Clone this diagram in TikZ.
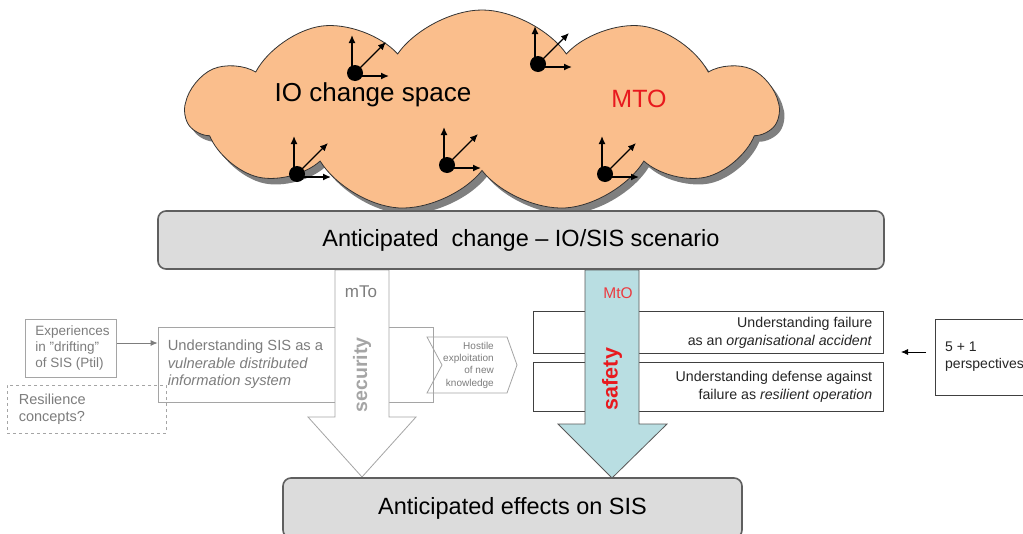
\documentclass[tikz,border=0pt]{standalone}
\usepackage{fontspec}
\setmainfont{Liberation Sans}
\usetikzlibrary{shapes.symbols,shadows,arrows.meta}
\definecolor{cloudfill}{RGB}{250,190,140}
\definecolor{barfill}{RGB}{220,220,220}
\definecolor{bardraw}{RGB}{95,95,95}
\definecolor{lgray}{RGB}{165,165,165}
\definecolor{tgray}{RGB}{125,125,125}
\definecolor{safefill}{RGB}{185,222,226}
\definecolor{mtored}{RGB}{232,25,30}
\tikzset{
  iconarrow/.style={-{Latex[length=8pt,width=7pt]}, line width=1.4pt},
  axesicon/.pic={
    \fill (0,0) circle (8pt);
    \draw[iconarrow] (-3,0) -- (-3,-38);
    \draw[iconarrow] (0,3) -- (34,3);
    \draw[iconarrow] (0,0) -- (31,-31);
  },
  bar/.style={draw=bardraw, line width=1.6pt, fill=barfill, rounded corners=8pt, inner sep=0pt},
  lbox/.style={draw=lgray, line width=0.8pt, inner sep=0pt},
  rbox/.style={draw=black!75, line width=0.8pt, fill=white, inner sep=0pt},
  ltext/.style={text=tgray, align=left, inner sep=0pt},
  rtext/.style={text=black!85, align=right, inner sep=0pt},
  secarrow/.style={draw=lgray, line width=0.8pt, fill=white},
  safearrow/.style={draw=black!65, line width=0.8pt, fill=safefill},
}
\begin{document}
\begin{tikzpicture}[x=1pt,y=-1pt]
\useasboundingbox (0,0) rectangle (1023,533);
\clip (0,0) rectangle (1023,533);
\fill[white] (0,0) rectangle (1023,533);

% cloud
\node[cloud, cloud puffs=11, cloud puff arc=110, aspect=2.9,
  minimum width=592pt, minimum height=202pt, fill=cloudfill, draw=black!80, line width=0.8pt,
  drop shadow={shadow xshift=5pt, shadow yshift=-6pt, opacity=0.5, fill=black}] (cloud) at (482,111) {};
\pic at (355,73) {axesicon};
\pic at (538,64) {axesicon};
\pic at (297,174) {axesicon};
\pic at (447,165) {axesicon};
\pic at (605,174) {axesicon};
\node[font=\fontsize{26}{30}\selectfont, inner sep=0pt] (io) at (373,95) {IO change space};
\node[font=\fontsize{25}{30}\selectfont, text=mtored, inner sep=0pt] (mto) at (639,99) {MTO};

% left side
\node[lbox, dashed, minimum width=159pt, minimum height=48pt] (res) at (86.5,409) {};
\node[ltext, anchor=west, font=\fontsize{14.5}{17}\selectfont] (restext) at ([xshift=12pt]res.west) {Resilience\\concepts?};
\node[lbox, minimum width=91pt, minimum height=58pt] (exp) at (71,348) {};
\node[ltext, anchor=west, font=\fontsize{13.5}{16}\selectfont] (exptext) at ([xshift=10pt]exp.west) {Experiences\\in "drifting"\\of SIS (Ptil)};
\node[lbox, minimum width=275pt, minimum height=75pt] (und) at (295.5,364.5) {};
\node[ltext, anchor=west, font=\fontsize{14.7}{17.5}\selectfont] (undtext) at ([xshift=10pt]und.west)
  {Understanding SIS as a\\\textit{vulnerable distributed}\\\textit{information system}};
\draw[draw=tgray, line width=0.8pt, -{Latex[length=7pt,width=6pt]}] (exp.east |- 0,343) -- (und.west |- 0,343);

% chevron
\draw[lgray, line width=0.8pt] (427,337) coordinate (chevA) -- (507,337) -- (517,365) coordinate (chevtip) -- (507,393) -- (427,393) -- (442,365) -- cycle;
\node[text=tgray, align=right, inner sep=0pt, anchor=east, font=\fontsize{10}{12.3}\selectfont] (hostile) at (494,365)
  {Hostile\\exploitation\\of new\\knowledge};

% right side
\node[rbox, minimum width=350pt, minimum height=42pt] (fail) at (708,332) {};
\node[rtext, anchor=east, font=\fontsize{14.2}{18}\selectfont] (failtext) at ([xshift=-11pt,yshift=-1pt]fail.east)
  {Understanding failure\\as an \textit{organisational accident}};
\node[rbox, minimum width=350pt, minimum height=49pt] (def) at (708,386.5) {};
\node[rtext, anchor=east, font=\fontsize{14.2}{18}\selectfont] (deftext) at ([xshift=-11pt]def.east)
  {Understanding defense against\\failure as \textit{resilient operation}};
\node[rbox, minimum width=110pt, minimum height=76pt, anchor=north west] (persp) at (935,319) {};
\node[anchor=west, align=left, inner sep=0pt, font=\fontsize{14}{17}\selectfont, text=black!85] (persptext) at ([xshift=10pt,yshift=1pt]persp.west) {5 + 1\\perspectives};
\coordinate (ptail) at (926,352);
\coordinate (phead) at (901,352);
\draw[black, line width=0.8pt, -{Latex[length=7pt,width=6pt]}] (ptail) -- (phead);

% block arrows
\path[secarrow] (335,270) -- (389,270) -- (389,417) -- (416,417) -- (362,477) coordinate (sectip) -- (308,417) -- (335,417) -- cycle;
\node[text=tgray, font=\fontsize{17}{18}\selectfont, inner sep=0pt] (mTo) at (361,292) {mTo};
\node[rotate=90, text=lgray, font=\bfseries\fontsize{19.5}{22}\selectfont, inner sep=0pt] (security) at (362,375) {security};
\path[safearrow] (585,270) -- (639,270) -- (639,424) -- (667,424) -- (612,478) coordinate (safetip) -- (558,424) -- (585,424) -- cycle;
\node[text=mtored!85, font=\fontsize{15.5}{17}\selectfont, inner sep=0pt] (MtO) at (618,293) {MtO};
\node[rotate=90, text=mtored, font=\bfseries\fontsize{21.5}{22}\selectfont, inner sep=0pt] (safety) at (612,379) {safety};

% bars
\node[bar, minimum width=726pt, minimum height=58pt, font=\fontsize{23.5}{26}\selectfont] (scen) at (521,240) {Anticipated\ \ change – IO/SIS scenario};
\node[bar, minimum width=459pt, minimum height=60pt, font=\fontsize{23.5}{26}\selectfont] (eff) at (512.5,508) {Anticipated effects on SIS};
\end{tikzpicture}
\end{document}
